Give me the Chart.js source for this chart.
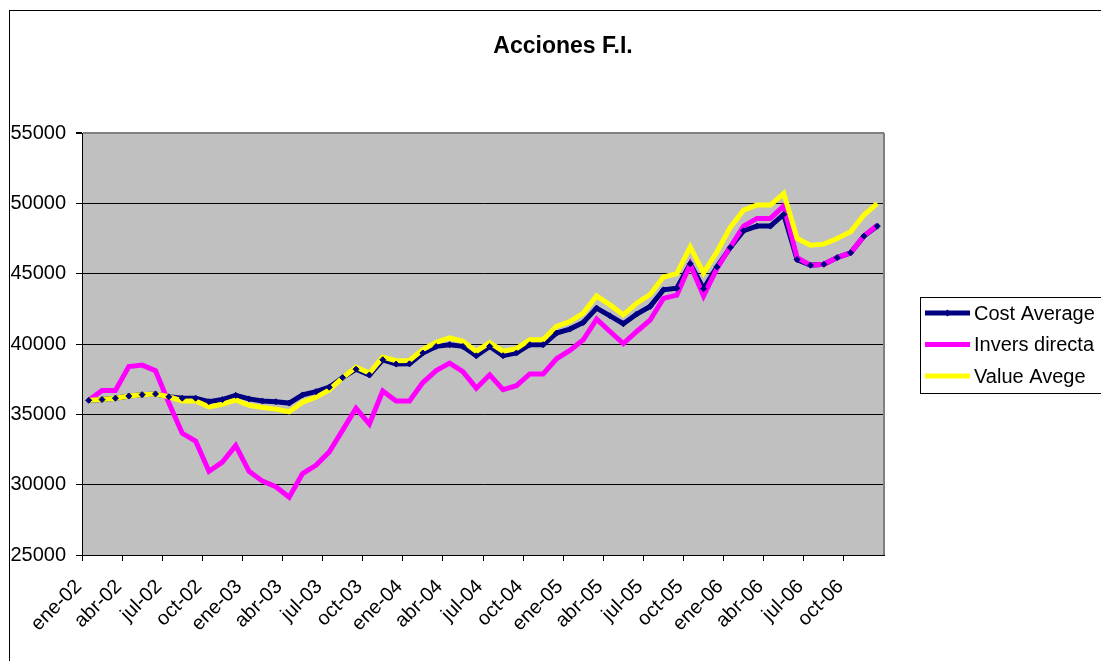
<!DOCTYPE html>
<html>
<head>
<meta charset="utf-8">
<title>Acciones F.I.</title>
<script src="https://cdn.jsdelivr.net/npm/chart.js@4.4.0/dist/chart.umd.min.js"></script>
<style>
  html, body { margin: 0; padding: 0; background: #fff; overflow: hidden; }
  canvas { display: block; }
</style>
</head>
<body>
<canvas id="lineChart" width="1101" height="661"></canvas>
<script>
var meses = ['ene', 'feb', 'mar', 'abr', 'may', 'jun', 'jul', 'ago', 'sep', 'oct', 'nov', 'dic'];
var anios = ['02', '03', '04', '05', '06'];
var yTicks = [25000, 30000, 35000, 40000, 45000, 50000, 55000];

var costAverage = [
  36000, 36050, 36150, 36300, 36400, 36450, 36250, 36150, 36150, 35900, 36050, 36350,
  36100, 35950, 35900, 35800, 36380, 36610, 36930, 37610, 38210, 37800, 38880, 38570,
  38590, 39360, 39830, 39950, 39830, 39160, 39830, 39170, 39360, 39950, 39950, 40780,
  41060, 41530, 42550, 42000, 41440, 42130, 42670, 43850, 43970, 45700, 43930, 45480,
  46860, 48050, 48380, 48380, 49210, 46000, 45600, 45670, 46140, 46480, 47670, 48380
];
var inversDirecta = [
  36000, 36700, 36700, 38400, 38500, 38100, 35800, 33650, 33100, 30950, 31600, 32780,
  30950, 30250, 29850, 29100, 30790, 31380, 32330, 33880, 35430, 34310, 36660, 35950,
  35950, 37260, 38110, 38640, 38040, 36860, 37810, 36760, 37040, 37870, 37870, 38950,
  39540, 40300, 41770, 40890, 40020, 40890, 41700, 43240, 43470, 45650, 43420, 45360,
  46900, 48380, 48930, 48930, 49810, 46140, 45600, 45670, 46140, 46480, 47670, 48450
];
var valueAvege = [
  36000, 36050, 36150, 36300, 36400, 36450, 36250, 35950, 35950, 35530, 35720, 36020,
  35640, 35480, 35370, 35180, 35860, 36210, 36740, 37600, 38360, 37930, 39070, 38810,
  38830, 39600, 40120, 40430, 40190, 39470, 40100, 39480, 39670, 40310, 40310, 41250,
  41600, 42200, 43420, 42780, 42070, 42900, 43520, 44760, 45000, 46900, 45050, 46550,
  48290, 49520, 49880, 49880, 50710, 47500, 47020, 47100, 47500, 47980, 49170, 50000
];

var labels = [];
anios.forEach(function (a) {
  meses.forEach(function (m) { labels.push(m + '-' + a); });
});

var FONT = 'Arial, "Liberation Sans", sans-serif';
Chart.defaults.font.family = FONT;
Chart.defaults.color = '#000';

var legendItems = [
  { text: 'Cost Average', color: '#000080', marker: true },
  { text: 'Invers directa', color: '#FF00FF' },
  { text: 'Value Avege', color: '#FFFF00' }
];

var excelLook = {
  id: 'excelLook',
  beforeDraw: function (chart) {
    var ctx = chart.ctx, a = chart.chartArea;
    ctx.save();
    ctx.fillStyle = '#fff';
    ctx.fillRect(0, 0, chart.width, chart.height);
    ctx.strokeStyle = '#000';
    ctx.lineWidth = 1;
    ctx.strokeRect(9.5, 10.5, chart.width + 50, chart.height + 50);
    ctx.fillStyle = '#C0C0C0';
    ctx.fillRect(a.left, a.top, a.right - a.left, a.bottom - a.top);
    ctx.restore();
  },
  beforeDatasetsDraw: function (chart) {
    var ctx = chart.ctx, a = chart.chartArea;
    ctx.save();
    ctx.strokeStyle = '#808080';
    ctx.lineWidth = 2;
    ctx.beginPath();
    ctx.moveTo(a.right, a.top);
    ctx.lineTo(a.right, a.bottom);
    ctx.stroke();
    ctx.restore();
  },
  afterDraw: function (chart) {
    var ctx = chart.ctx;
    ctx.save();
    // title
    ctx.fillStyle = '#000';
    ctx.font = 'bold 23px ' + FONT;
    ctx.textAlign = 'center';
    ctx.textBaseline = 'middle';
    ctx.fillText('Acciones F.I.', 563, 47);
    // legend
    ctx.fillStyle = '#fff';
    ctx.fillRect(920.5, 297.5, 200, 96);
    ctx.strokeStyle = '#000';
    ctx.lineWidth = 1;
    ctx.strokeRect(920.5, 297.5, 200, 96);
    ctx.font = '20px ' + FONT;
    ctx.textAlign = 'left';
    legendItems.forEach(function (it, i) {
      var y = 313 + i * 31.5;
      ctx.strokeStyle = it.color;
      ctx.lineWidth = 5;
      ctx.beginPath();
      ctx.moveTo(925, y);
      ctx.lineTo(970, y);
      ctx.stroke();
      if (it.marker) {
        ctx.fillStyle = it.color;
        ctx.beginPath();
        ctx.moveTo(947.5, y - 3.5);
        ctx.lineTo(951, y);
        ctx.lineTo(947.5, y + 3.5);
        ctx.lineTo(944, y);
        ctx.closePath();
        ctx.fill();
      }
      ctx.fillStyle = '#000';
      ctx.fillText(it.text, 974, y + 1);
    });
    ctx.restore();
  }
};

var ctx = document.getElementById('lineChart').getContext('2d');
var lineChart = new Chart(ctx, {
  type: 'line',
  data: {
    labels: labels,
    datasets: [{
      label: 'Cost Average',
      data: costAverage,
      borderColor: '#000080',
      backgroundColor: '#000080',
      borderWidth: 5,
      pointRadius: 0,
      tension: 0,
      order: 4
    }, {
      label: 'Invers directa',
      data: inversDirecta,
      borderColor: '#FF00FF',
      backgroundColor: '#FF00FF',
      borderWidth: 5,
      pointRadius: 0,
      tension: 0,
      order: 3
    }, {
      label: 'Value Avege',
      data: valueAvege,
      borderColor: '#FFFF00',
      backgroundColor: '#FFFF00',
      borderWidth: 5,
      pointRadius: 0,
      tension: 0,
      order: 2
    }, {
      label: 'Cost Average markers',
      data: costAverage,
      showLine: false,
      pointStyle: 'rectRot',
      pointRadius: 3,
      pointBorderWidth: 1,
      pointBackgroundColor: '#000080',
      pointBorderColor: '#000080',
      order: 1
    }]
  },
  options: {
    responsive: false,
    animation: false,
    devicePixelRatio: 1,
    layout: { padding: { left: 0, top: 133, right: 217, bottom: 0 } },
    plugins: {
      legend: { display: false },
      title: { display: false },
      tooltip: { enabled: false }
    },
    scales: {
      x: {
        offset: true,
        grid: {
          offset: true,
          drawOnChartArea: false,
          tickLength: 6,
          color: function (c) { return c.index % 3 === 0 ? '#000' : 'rgba(0,0,0,0)'; }
        },
        border: { color: '#000', width: 1 },
        ticks: {
          autoSkip: false,
          maxRotation: 45,
          minRotation: 45,
          padding: 14,
          labelOffset: -10,
          font: { size: 20 },
          color: '#000',
          callback: function (v, i) { return i % 3 === 0 ? this.getLabelForValue(v) : ''; }
        },
        afterFit: function (s) { s.height = 106; }
      },
      y: {
        min: 25000,
        max: 55000,
        afterBuildTicks: function (s) { s.ticks = yTicks.map(function (v) { return { value: v }; }); },
        grid: {
          color: function (c) { return c.tick && c.tick.value === 55000 ? '#808080' : '#000'; },
          lineWidth: function (c) { return c.tick && c.tick.value === 55000 ? 2 : 1; },
          tickLength: 6,
          tickColor: '#000'
        },
        border: { color: '#000', width: 1 },
        ticks: {
          padding: 10,
          font: { size: 20 },
          color: '#000',
          callback: function (v) { return String(v); }
        },
        afterFit: function (s) { s.width = 82; }
      }
    }
  },
  plugins: [excelLook]
});
</script>
</body>
</html>
